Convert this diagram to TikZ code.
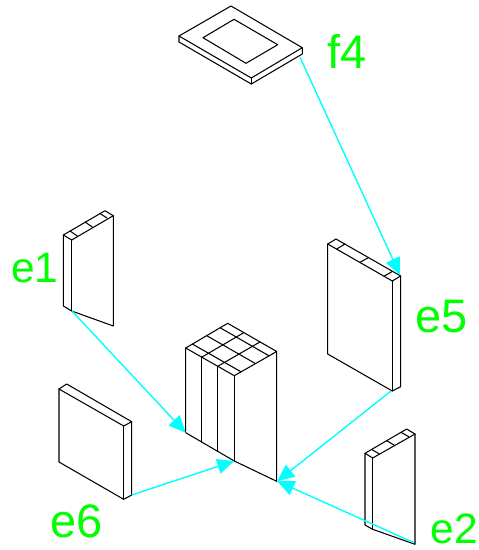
\documentclass[tikz,border=0pt]{standalone}
\usepackage{fontspec}
\setmainfont{Liberation Sans}
\usetikzlibrary{arrows.meta,calc}
\definecolor{lab}{RGB}{0,255,0}
\definecolor{arr}{RGB}{0,255,255}
\tikzset{
  edge/.style={draw=black,line width=1.05pt,line join=round,line cap=round},
  link/.style={draw=arr,line width=1.4pt,-{Triangle[length=17pt,width=15pt]}},
  lbl/.style={text=lab,anchor=base west,inner sep=0pt,font=\fontsize{47}{47}\selectfont},
  lblsmall/.style={lbl,font=\fontsize{42.5}{42.5}\selectfont}
}
\begin{document}
\begin{tikzpicture}[x=1pt,y=-1pt]
\useasboundingbox (0,0) rectangle (479,550);
\fill[white] (0,0) rectangle (479,550);

% f4 plate
\draw[edge] (231,6) -- (179,36) -- (251.3,78) -- (302.3,47.7) -- cycle;
\draw[edge] (179,36) -- (179,42) -- (251.3,84) -- (302.3,54) -- (302.3,47.7);
\draw[edge] (251.3,78) -- (251.3,84);
\draw[edge] (234,19.3) -- (203,37.7) -- (246,63.3) -- (277.7,44.7) -- cycle;

% central block
\coordinate (B) at (227.7,323.3);
\coordinate (L) at (185.7,348);
\coordinate (F) at (234.3,375.7);
\coordinate (R) at (276.7,351.5);
\coordinate (LB) at (185.7,432.7);
\coordinate (FB) at (234.3,461);
\coordinate (RB) at (276.7,481.3);
\draw[edge] (B) -- (L) -- (F) -- (R) -- cycle;
\draw[edge] (L) -- (LB) -- (FB) -- (RB) -- (R);
\draw[edge] (F) -- (FB);
\foreach \t in {0.16,0.5,0.82}
  \draw[edge] ($(L)!\t!(B)$) -- ($(F)!\t!(R)$);
\foreach \s in {0.33,0.66} {
  \draw[edge] ($(L)!\s!(F)$) -- ($(B)!\s!(R)$);
  \draw[edge] ($(L)!\s!(F)$) -- ($(LB)!\s!(FB)$);
}

% e1 panel
\draw[edge] (63.3,235) -- (105,210.7) -- (113.3,215.7) -- (71.7,240) -- cycle;
\draw[edge] (63.3,235) -- (63.3,306) -- (71.7,311) -- (113.3,326) -- (113.3,215.7);
\draw[edge] (71.7,240) -- (71.7,311);
\draw[edge] (70,231) -- (77.3,236);
\draw[edge] (85,222) -- (92.3,227);
\draw[edge] (100,213.5) -- (107,218);

% e5 panel
\draw[edge] (327.7,244) -- (336,239) -- (400.7,276) -- (392.3,281) -- cycle;
\draw[edge] (327.7,244) -- (327.7,354) -- (392.3,391) -- (400.7,386.7) -- (400.7,276);
\draw[edge] (392.3,281) -- (392.3,391);
\draw[edge] (336.7,249) -- (345,244);
\draw[edge] (360,262.3) -- (368.3,257.7);
\draw[edge] (384,276.2) -- (392.3,271.5);

% e2 panel
\draw[edge] (365,453.3) -- (406.7,429) -- (415,434) -- (372.7,458) -- cycle;
\draw[edge] (365,453.3) -- (365,525) -- (372.7,529.3) -- (415,544.3) -- (415,434);
\draw[edge] (372.7,458) -- (372.7,529.3);
\draw[edge] (371.7,449.5) -- (379,453.7);
\draw[edge] (386.7,440.7) -- (394,445);
\draw[edge] (401,432.3) -- (408.7,436.7);

% e6 panel
\draw[edge] (59,389) -- (66.7,384) -- (131.7,421.7) -- (123.7,426) -- cycle;
\draw[edge] (59,389) -- (59,462) -- (123.7,499.3) -- (131.7,495) -- (131.7,421.7);
\draw[edge] (123.7,426) -- (123.7,499.3);

% labels
\node[lbl] (f4) at (327,68) {f4};
\node[lblsmall] (e1) at (11,282) {e1};
\node[lbl] (e5) at (415.5,332) {e5};
\node[lblsmall] (e2) at (430.5,543.5) {e2};
\node[lbl] (e6) at (50.5,537) {e6};

% connector ends
\coordinate (sf4) at (300,57.3);
\coordinate (te5) at (400,275);
\coordinate (se1) at (72,311);
\coordinate (se6) at (131.7,495);
\coordinate (se5) at (391,391);
\coordinate (se2) at (414,542.7);
\coordinate (tr) at (277.3,481.2);
\draw[link] (sf4) -- (te5);
\draw[link] (se1) -- (LB);
\draw[link] (se6) -- (FB);
\draw[link] (se5) -- (tr);
\draw[link] (se2) -- (tr);
\end{tikzpicture}
\end{document}
